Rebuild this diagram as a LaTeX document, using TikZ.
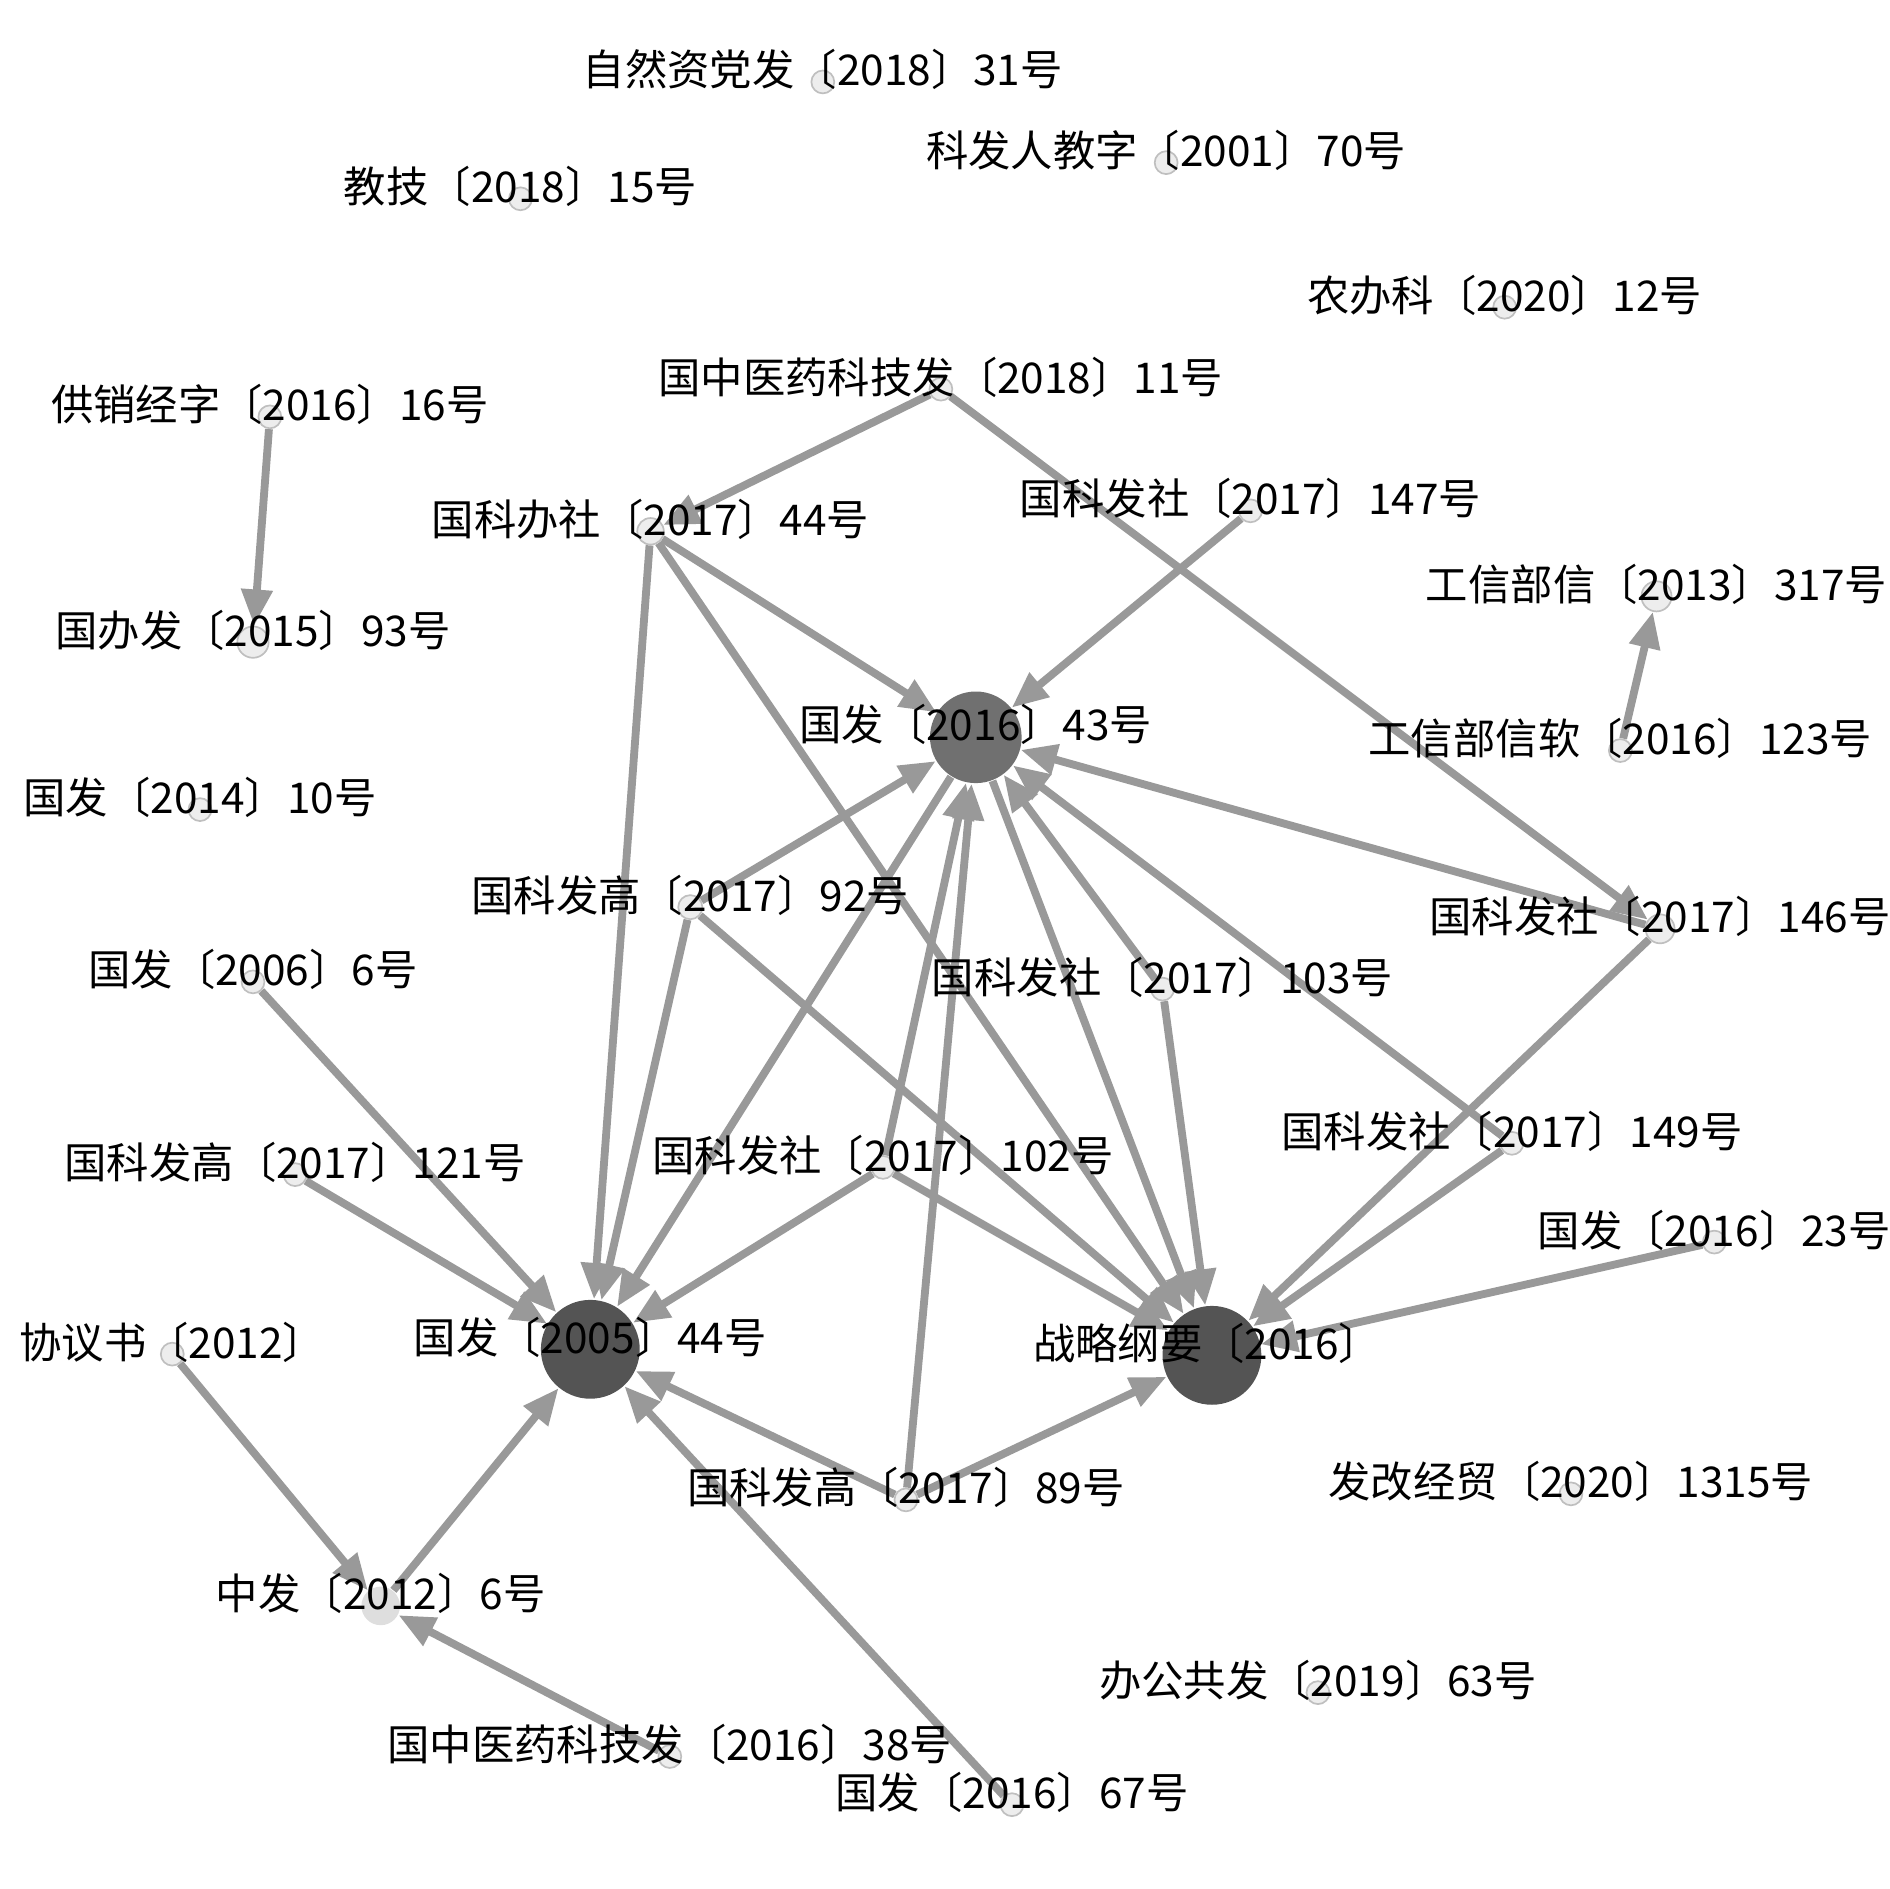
\documentclass[tikz,border=0pt]{standalone}
\usepackage{fontspec}
\newfontfamily\cjk{Noto Sans CJK SC}
\usetikzlibrary{positioning,arrows.meta,backgrounds}
\tikzstyle{sdoc}=[circle, draw=black!25, fill=black!7, line width=0.4pt,
                  inner sep=0pt, minimum size=0.19cm]
\tikzstyle{hub}=[circle, fill=black!67, inner sep=0pt, minimum size=0.82cm]
\tikzstyle{lbl}=[font=\cjk\fontsize{10}{12}\selectfont, text=black, inner sep=0pt]
\tikzstyle{cline}=[-{Triangle[length=0.3cm,width=0.25cm]}, line width=0.065cm, draw=black!40]

\begin{document}
\begin{tikzpicture}[x=0.01cm, y=-0.01cm]
\useasboundingbox (0,0) rectangle (1568,1568);

\node (ZRZ18) [sdoc] at (683,68) {};
\node [lbl] at ([yshift=1mm]ZRZ18) {自然资党发〔2018〕31号};

\node (KFR01) [sdoc] at (968,135) {};
\node [lbl] at ([yshift=1mm]KFR01) {科发人教字〔2001〕70号};

\node (JJ18) [sdoc] at (432,165) {};
\node [lbl] at ([yshift=1mm]JJ18) {教技〔2018〕15号};

\node (NBK20) [sdoc] at (1249,255) {};
\node [lbl] at ([yshift=1mm]NBK20) {农办科〔2020〕12号};

\node (ZYY18) [sdoc] at (781,323) {};
\node [lbl] at ([yshift=1mm]ZYY18) {国中医药科技发〔2018〕11号};

\node (GXJ16) [sdoc] at (224,346) {};
\node [lbl] at ([yshift=1mm]GXJ16) {供销经字〔2016〕16号};

\node (KBS44) [sdoc, minimum size=0.22cm] at (540,441) {};
\node [lbl] at ([yshift=1mm]KBS44) {国科办社〔2017〕44号};

\node (KFS147) [sdoc] at (1038,424) {};
\node [lbl] at ([yshift=1mm]KFS147) {国科发社〔2017〕147号};

\node (GXB317) [sdoc, minimum size=0.25cm] at (1375,495) {};
\node [lbl] at ([yshift=1mm]GXB317) {工信部信〔2013〕317号};

\node (GBF93) [sdoc, minimum size=0.26cm] at (210,533) {};
\node [lbl] at ([yshift=1mm]GBF93) {国办发〔2015〕93号};

\node (GF43) [hub, fill=black!56, minimum size=0.76cm] at (810,612) {};
\node [lbl] at ([yshift=1.1mm]GF43) {国发〔2016〕43号};

\node (GXR123) [sdoc] at (1345,623) {};
\node [lbl] at ([yshift=1mm]GXR123) {工信部信软〔2016〕123号};

\node (GF10) [sdoc] at (166,672) {};
\node [lbl] at ([yshift=1mm]GF10) {国发〔2014〕10号};

\node (KFG92) [sdoc, minimum size=0.2cm] at (573,753) {};
\node [lbl] at ([yshift=1mm]KFG92) {国科发高〔2017〕92号};

\node (KFS146) [sdoc, minimum size=0.24cm] at (1378,771) {};
\node [lbl] at ([yshift=1mm]KFS146) {国科发社〔2017〕146号};

\node (GF06) [sdoc] at (210,815) {};
\node [lbl] at ([yshift=1mm]GF06) {国发〔2006〕6号};

\node (KFS103) [sdoc] at (965,821) {};
\node [lbl] at ([yshift=1mm]KFS103) {国科发社〔2017〕103号};

\node (KFG121) [sdoc] at (245,975) {};
\node [lbl] at ([yshift=1mm]KFG121) {国科发高〔2017〕121号};

\node (KFS102) [sdoc] at (733,969) {};
\node [lbl] at ([yshift=1mm]KFS102) {国科发社〔2017〕102号};

\node (KFS149) [sdoc] at (1255,949) {};
\node [lbl] at ([yshift=1mm]KFS149) {国科发社〔2017〕149号};

\node (GF23) [sdoc] at (1423,1031) {};
\node [lbl] at ([yshift=1mm]GF23) {国发〔2016〕23号};

\node (XYS12) [sdoc] at (143,1124) {};
\node [lbl] at ([yshift=1mm]XYS12) {协议书〔2012〕};

\node (GF05) [hub] at (490,1120) {};
\node [lbl] at ([yshift=1mm]GF05) {国发〔2005〕44号};

\node (ZLGY) [hub] at (1006,1125) {};
\node [lbl] at ([xshift=-0.4mm,yshift=1mm]ZLGY) {战略纲要〔2016〕};

\node (KFG89) [sdoc] at (752,1245) {};
\node [lbl] at ([yshift=1mm]KFG89) {国科发高〔2017〕89号};

\node (FGJ20) [sdoc] at (1304,1240) {};
\node [lbl] at ([yshift=1mm]FGJ20) {发改经贸〔2020〕1315号};

\node (ZF12) [sdoc, draw=none, fill=black!13, minimum size=0.32cm] at (316,1333) {};
\node [lbl] at ([yshift=1mm]ZF12) {中发〔2012〕6号};

\node (BGG19) [sdoc] at (1094,1405) {};
\node [lbl] at ([yshift=1mm]BGG19) {办公共发〔2019〕63号};

\node (ZYY16) [sdoc] at (556,1458) {};
\node [lbl] at ([yshift=1mm]ZYY16) {国中医药科技发〔2016〕38号};

\node (GF67) [sdoc] at (840,1498) {};
\node [lbl] at ([yshift=1mm]GF67) {国发〔2016〕67号};

\begin{scope}[on background layer]
 \draw[cline]   (GXJ16) -- (GBF93);
 \draw[cline]   (ZYY18) -- (KBS44);
 \draw[cline]   (ZYY18) -- (KFS146);
 \draw[cline]   (KBS44) -- (GF43);
 \draw[cline]   (KBS44) -- (GF05);
 \draw[cline]   (KBS44) -- (ZLGY);
 \draw[cline]   (KFS147) -- (GF43);
 \draw[cline]   (GXR123) -- (GXB317);
 \draw[cline]   (KFS146) -- (GF43);
 \draw[cline]   (KFS146) -- (ZLGY);
 \draw[cline]   (KFG92) -- (GF43);
 \draw[cline]   (KFG92) -- (GF05);
 \draw[cline]   (KFG92) -- (ZLGY);
 \draw[cline]   (GF43) -- (GF05);
 \draw[cline]   (GF43) -- (ZLGY);
 \draw[cline]   (KFS103) -- (GF43);
 \draw[cline]   (KFS103) -- (ZLGY);
 \draw[cline]   (KFS149) -- (GF43);
 \draw[cline]   (KFS149) -- (ZLGY);
 \draw[cline]   (KFS102) -- (GF43);
 \draw[cline]   (KFS102) -- (GF05);
 \draw[cline]   (KFS102) -- (ZLGY);
 \draw[cline]   (GF06) -- (GF05);
 \draw[cline]   (KFG121) -- (GF05);
 \draw[cline]   (GF23) -- (ZLGY);
 \draw[cline]   (XYS12) -- (ZF12);
 \draw[cline]   (ZF12) -- (GF05);
 \draw[cline]   (ZYY16) -- (ZF12);
 \draw[cline]   (GF67) -- (GF05);
 \draw[cline]   (KFG89) -- (GF05);
 \draw[cline]   (KFG89) -- (ZLGY);
 \draw[cline]   (KFG89) -- (GF43);
\end{scope}

\end{tikzpicture}
\end{document}
